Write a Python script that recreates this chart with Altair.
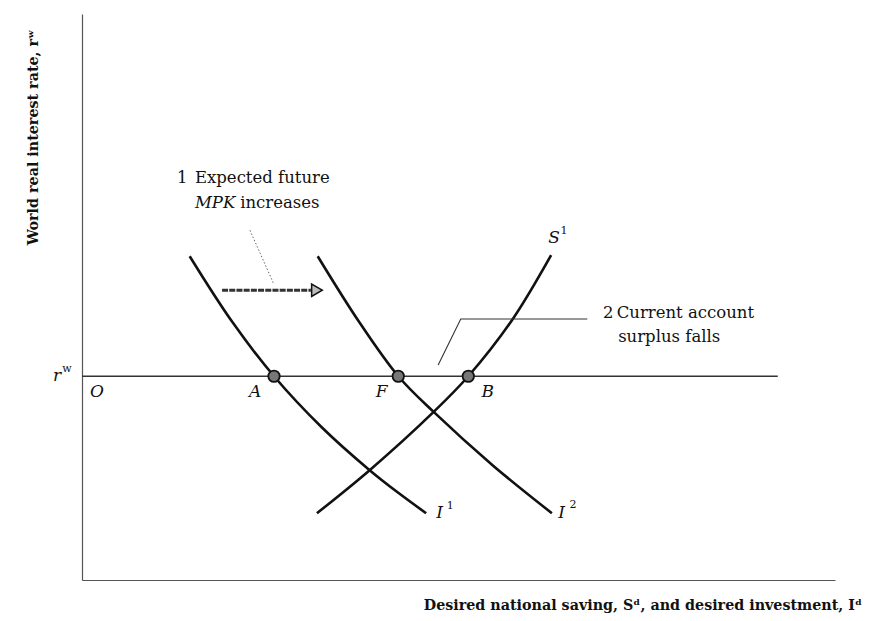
import altair as alt
import pandas as pd

# ---------------- data (units 0-100 on both axes) ----------------
rw_level = 36.0
rw_x_end = 92.4

i1_x = [14.3, 19.9, 25.5, 31.9, 38.2, 42.0, 45.7]
i1_y = [57.2, 45.7, 36.0, 26.9, 19.4, 15.4, 11.8]
i2_x = [31.3, 36.7, 42.0, 46.7, 54.6, 62.4]
i2_y = [57.2, 45.8, 36.0, 29.7, 20.2, 11.8]
s1_x = [31.2, 38.2, 46.7, 51.3, 57.1, 62.3]
s1_y = [11.8, 19.4, 29.7, 36.0, 45.9, 57.4]

eq_names = ["A", "F", "B"]
eq_x = [25.5, 42.0, 51.3]

arrow_x = [18.6, 30.4]
arrow_y = 51.2
arrow_head_x = 31.2

lead1_x = [22.3, 25.4]
lead1_y = [61.8, 52.5]
lead2_x = [47.3, 50.3, 67.1]
lead2_y = [38.0, 46.1, 46.1]

note_text = ["1", "Expected future", "increases", "2", "Current account", "surplus falls"]
note_x = [12.6, 15.0, 21.0, 69.2, 71.0, 71.2]
note_y = [71.0, 71.0, 66.6, 47.2, 47.2, 42.9]

ital_text = ["MPK", "A", "F", "B", "O", "S", "I", "I", "r"]
ital_x = [15.0, 23.0, 39.8, 53.9, 2.0, 62.7, 47.5, 63.7, -3.3]
ital_y = [66.6, 33.2, 33.2, 33.2, 33.2, 60.4, 11.8, 11.8, 36.0]
ital_align = ["left", "center", "center", "center", "center", "center", "center", "center", "center"]

sup_text = ["1", "1", "2", "w"]
sup_x = [64.0, 48.9, 65.2, -2.0]
sup_y = [61.7, 13.1, 13.3, 37.2]

x_title = "Desired national saving, S\u1d48, and desired investment, I\u1d48"
y_title = "World real interest rate, r\u02b7"

# ---------------- tables ----------------
curves = pd.concat([
    pd.DataFrame({"curve": "I1", "x": i1_x, "y": i1_y}),
    pd.DataFrame({"curve": "I2", "x": i2_x, "y": i2_y}),
    pd.DataFrame({"curve": "S1", "x": s1_x, "y": s1_y}),
], ignore_index=True)
curves["ord"] = curves.groupby("curve").cumcount()

rw_df = pd.DataFrame({"x": [0.0, rw_x_end], "y": [rw_level, rw_level]})
eq_df = pd.DataFrame({"name": eq_names, "x": eq_x, "y": [rw_level] * 3})
arrow_df = pd.DataFrame({"x": arrow_x, "y": [arrow_y] * 2})
head_df = pd.DataFrame({"x": [arrow_head_x], "y": [arrow_y]})
lead1_df = pd.DataFrame({"x": lead1_x, "y": lead1_y, "ord": range(2)})
lead2_df = pd.DataFrame({"x": lead2_x, "y": lead2_y, "ord": range(3)})
note_df = pd.DataFrame({"t": note_text, "x": note_x, "y": note_y})
ital_df = pd.DataFrame({"t": ital_text, "x": ital_x, "y": ital_y, "a": ital_align})
sup_df = pd.DataFrame({"t": sup_text, "x": sup_x, "y": sup_y})
xt_df = pd.DataFrame({"t": [x_title], "x": [103.6], "y": [-4.6]})
yt_df = pd.DataFrame({"t": [y_title], "x": [-6.4], "y": [78.2]})

FONT = "DejaVu Serif"
ax = alt.Axis(title=None, labels=False, ticks=False, grid=False,
              domainColor="#555", domainWidth=1.2)
X = alt.X("x:Q", scale=alt.Scale(domain=[0, 100], nice=False, zero=False), axis=ax)
Y = alt.Y("y:Q", scale=alt.Scale(domain=[0, 100], nice=False, zero=False), axis=ax)

curve_layer = alt.Chart(curves).mark_line(
    interpolate="catmull-rom", color="#111", strokeWidth=2.6
).encode(x=X, y=Y, detail="curve:N", order="ord:Q")

rw_layer = alt.Chart(rw_df).mark_line(color="#333", strokeWidth=1.5).encode(x=X, y=Y)

arrow_layer = alt.Chart(arrow_df).mark_line(
    color="#333", strokeWidth=3, strokeDash=[6, 1.2]
).encode(x=X, y=Y)
head_layer = alt.Chart(head_df).mark_point(
    shape="triangle-right", size=150, filled=True, fill="#bbb", stroke="#111",
    strokeWidth=1.5, opacity=1
).encode(x=X, y=Y)

lead1_layer = alt.Chart(lead1_df).mark_line(
    color="#666", strokeWidth=1, strokeDash=[1.5, 2]
).encode(x=X, y=Y, order="ord:Q")
lead2_layer = alt.Chart(lead2_df).mark_line(color="#333", strokeWidth=1.1).encode(
    x=X, y=Y, order="ord:Q")

eq_layer = alt.Chart(eq_df).mark_point(
    shape="circle", size=130, filled=True, fill="#777", stroke="#111",
    strokeWidth=1.8, opacity=1
).encode(x=X, y=Y)

note_layer = alt.Chart(note_df).mark_text(
    font=FONT, fontSize=16.5, align="left", baseline="middle", color="#111"
).encode(x=X, y=Y, text="t:N")

ital_left = alt.Chart(ital_df[ital_df["a"] == "left"]).mark_text(
    font=FONT, fontSize=16.5, fontStyle="italic", align="left", baseline="middle",
    color="#111"
).encode(x=X, y=Y, text="t:N")
ital_center = alt.Chart(ital_df[ital_df["a"] == "center"]).mark_text(
    font=FONT, fontSize=17, fontStyle="italic", align="center", baseline="middle",
    color="#111"
).encode(x=X, y=Y, text="t:N")

sup_layer = alt.Chart(sup_df).mark_text(
    font=FONT, fontSize=11, align="center", baseline="middle", color="#111"
).encode(x=X, y=Y, text="t:N")

xt_layer = alt.Chart(xt_df).mark_text(
    font=FONT, fontSize=14.3, fontWeight="bold", align="right", baseline="middle",
    color="#111"
).encode(x=X, y=Y, text="t:N")
yt_layer = alt.Chart(yt_df).mark_text(
    font=FONT, fontSize=14.3, fontWeight="bold", align="center", baseline="middle",
    angle=270, color="#111"
).encode(x=X, y=Y, text="t:N")

chart = alt.layer(
    rw_layer, curve_layer, arrow_layer, head_layer, lead1_layer, lead2_layer,
    eq_layer, note_layer, ital_left, ital_center, sup_layer, xt_layer, yt_layer
).properties(
    width=753, height=566,
    autosize=alt.AutoSizeParams(type="none"),
    padding={"left": 74, "top": 6, "right": 35, "bottom": 33},
    background="white",
).configure_view(stroke=None)

chart.save("out.html", embed_options={"renderer": "svg", "actions": False})
